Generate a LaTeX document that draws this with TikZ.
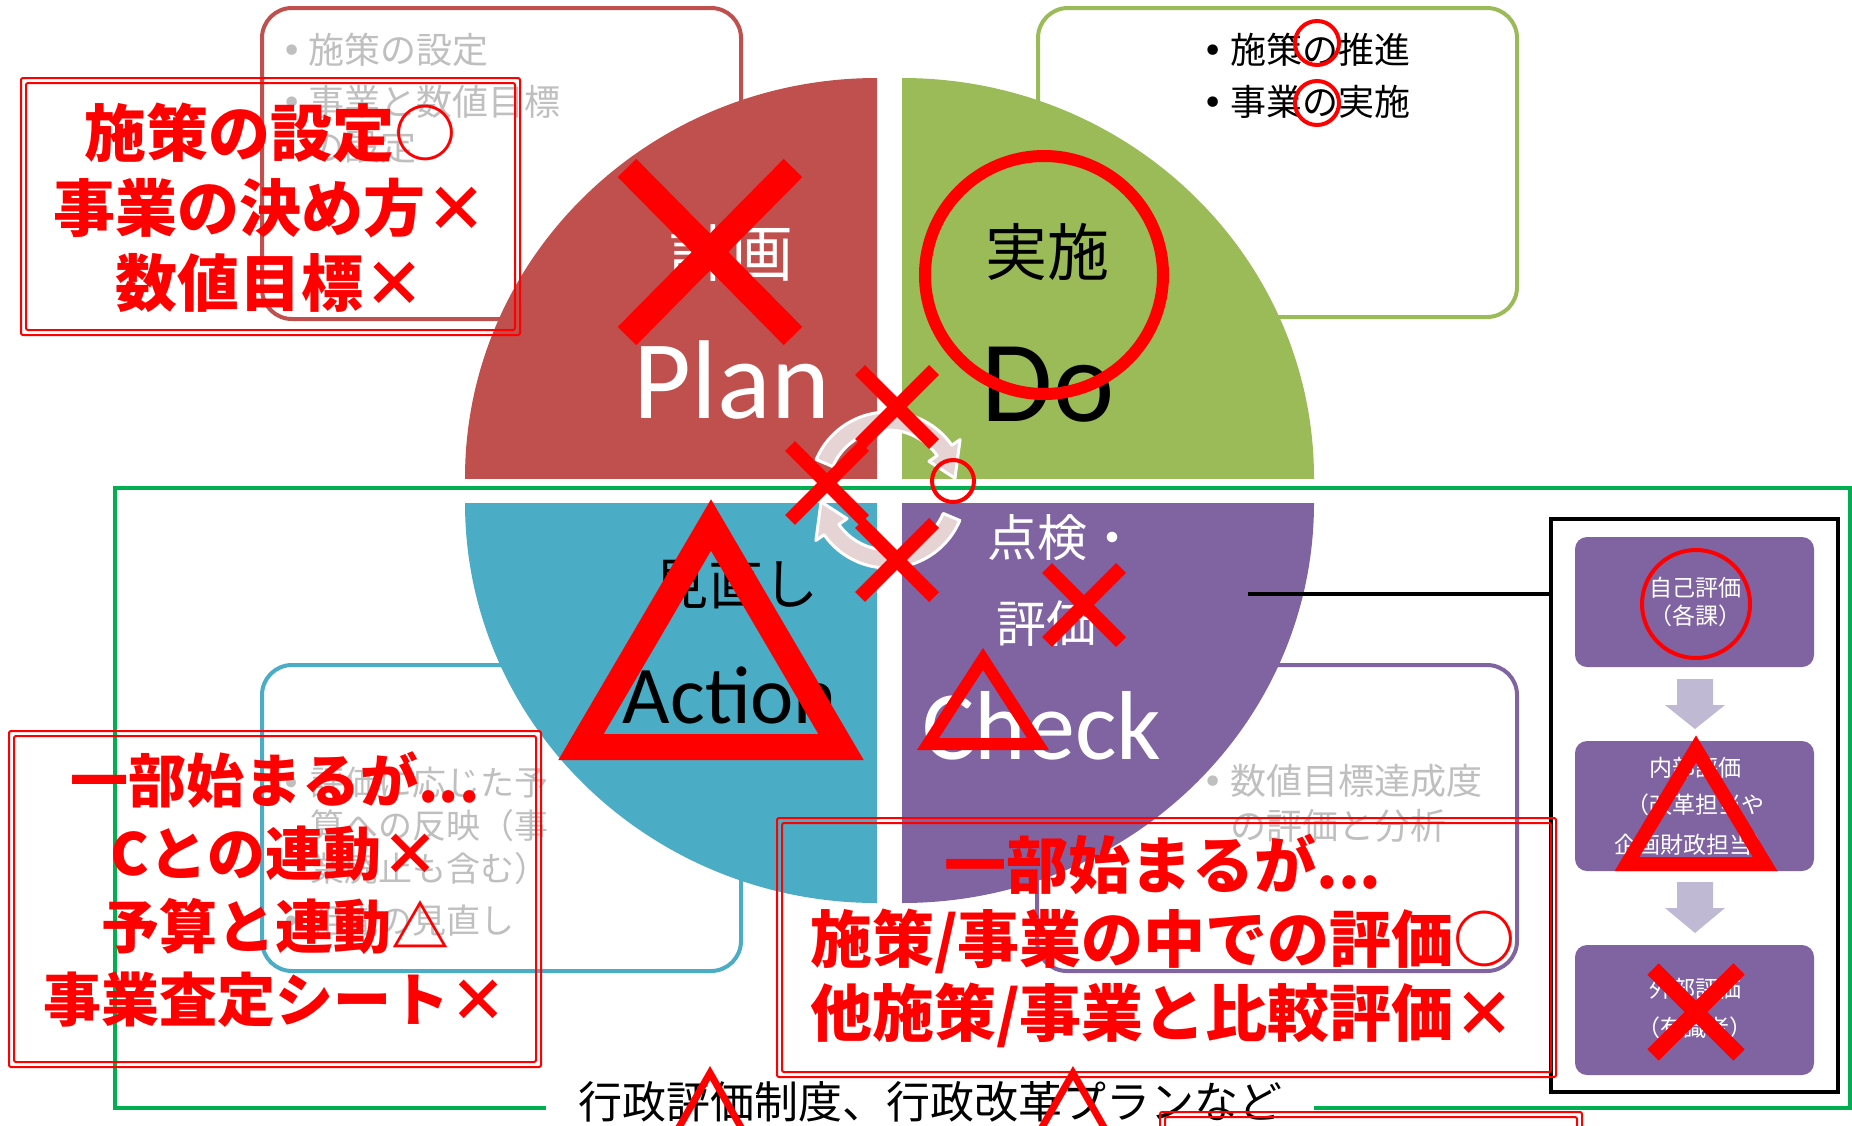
\documentclass[tikz,border=0pt]{standalone}
\usepackage{fontspec}
\setmainfont{Carlito}
\newfontfamily\jp{Noto Sans CJK JP}
\newfontfamily\dv{DejaVu Sans}
\definecolor{planc}{HTML}{C0504D}
\definecolor{doc}{HTML}{9BBB59}
\definecolor{actc}{HTML}{4BACC6}
\definecolor{chkc}{HTML}{8064A2}
\definecolor{grayt}{HTML}{BFBFBF}
\definecolor{grn}{HTML}{00B050}
\definecolor{cyc}{HTML}{E6D3D3}
\definecolor{parr}{HTML}{C0B9D4}
\begin{document}
\begin{tikzpicture}[x=1pt,y=-1pt,
  callout/.style={line width=4pt, rounded corners=30pt},
  gtxt/.style={anchor=base west, inner sep=0pt, text=grayt, font=\jp\fontsize{36}{36}\selectfont},
  gtxtA/.style={gtxt, font=\jp\fontsize{34}{34}\selectfont},
  btxt/.style={gtxt, text=black},
  redtxt/.style={anchor=base, inner sep=0pt, text=red, font=\jp\bfseries\fontsize{62}{62}\selectfont},
  redtxtB/.style={redtxt, font=\jp\bfseries\fontsize{58}{58}\selectfont},
  dblbox/.style={draw=red, line width=2pt, rounded corners=2pt},
  redx/.style={draw=red, line cap=butt},
  redtri/.style={draw=red, line join=miter},
  redring/.style={draw=red},
  pietxt/.style={anchor=base, inner sep=0pt},
  paneltxt/.style={anchor=base, inner sep=0pt, text=white, font=\jp\fontsize{23}{23}\selectfont},
  cycarrow/.style={fill=cyc, draw=white, line width=3pt, line join=round},
  downarrow/.style={fill=parr}
]
\useasboundingbox (0,0) rectangle (1852,1125);
\clip (0,0) rectangle (1852,1125);
\fill[white] (0,0) rectangle (1852,1125);

% callout boxes
\draw[callout, draw=planc] (262,8) rectangle (741,319);
\draw[callout, draw=doc] (1038,8) rectangle (1517,317);
\draw[callout, draw=actc] (262,665) rectangle (741,971);
\draw[callout, draw=chkc] (1037,665) rectangle (1517,971);

\node[gtxt] (p1) at (281,63) {\makebox[27pt][l]{\dv •}施策の設定};
\node[gtxt] (p2) at (281,115) {\makebox[27pt][l]{\dv •}事業と数値目標};
\node[gtxt] (p3) at (308,160) {の設定};
\node[btxt] (d1) at (1202,63) {\makebox[28pt][l]{\dv •}施策の推進};
\node[btxt] (d2) at (1202,115) {\makebox[28pt][l]{\dv •}事業の実施};
\node[gtxtA] (a1) at (281,795) {\makebox[29pt][l]{\dv •}評価に応じた予};
\node[gtxtA] (a2) at (310,838) {算への反映（事};
\node[gtxtA] (a3) at (310,881) {業廃止も含む）};
\node[gtxtA] (a4) at (281,933) {\makebox[29pt][l]{\dv •}組織の見直し};
\node[gtxt] (c1) at (1202,794) {\makebox[28pt][l]{\dv •}数値目標達成度};
\node[gtxt] (c2) at (1230,839) {の評価と分析};

% pie
\begin{scope}
  \clip (440,60) rectangle (877,478);
  \fill[planc] (877,478) ellipse[x radius=412, y radius=400];
\end{scope}
\begin{scope}
  \clip (902,60) rectangle (1330,478);
  \fill[doc] (902,478) ellipse[x radius=412, y radius=400];
\end{scope}
\begin{scope}
  \clip (440,503) rectangle (877,920);
  \fill[actc] (877,503) ellipse[x radius=412, y radius=400];
\end{scope}
\begin{scope}
  \clip (902,503) rectangle (1330,920);
  \fill[chkc] (902,503) ellipse[x radius=412, y radius=400];
\end{scope}

\node[pietxt, text=white, font=\jp\fontsize{62}{62}\selectfont] (keikaku) at (731,276) {計画};
\node[pietxt, text=white, font=\fontsize{112}{112}\selectfont] (plan) at (732,418) {Plan};
\node[pietxt, text=black, font=\jp\fontsize{62}{62}\selectfont] (jisshi) at (1047,275) {実施};
\node[pietxt, text=black, font=\fontsize{116}{116}\selectfont] (do) at (1048,421) {Do};
\node[pietxt, text=black, font=\jp\fontsize{55}{55}\selectfont] (minaoshi) at (736,604) {見直し};
\node[pietxt, text=black, font=\fontsize{82}{82}\selectfont] (action) at (730,723) {Action};
\node[pietxt, text=white, font=\jp\fontsize{50}{50}\selectfont] (tenken) at (1062,556) {点検・};
\node[pietxt, text=white, font=\jp\fontsize{50}{50}\selectfont] (hyoka) at (1046,642) {評価};
\node[pietxt, text=white, font=\fontsize{98}{98}\selectfont] (check) at (1042,759) {Check};

% cycle arrows
\begin{scope}[shift={(888,490)}]
  \draw[cycarrow] (203:78) arc[start angle=203, end angle=325, radius=78]
     -- (325:88) -- (350:68) -- (325:50) -- (325:60)
     arc[start angle=325, end angle=203, radius=60] -- cycle;
  \draw[cycarrow] (23:78) arc[start angle=23, end angle=145, radius=78]
     -- (145:88) -- (170:68) -- (145:50) -- (145:60)
     arc[start angle=145, end angle=23, radius=60] -- cycle;
\end{scope}

% green frame
\draw[grn, line width=4pt] (115,488) rectangle (1850,1108);
\node[anchor=base, fill=white, inner xsep=32pt, inner ysep=2pt, text=black,
      font=\jp\fontsize{44}{44}\selectfont] (seido) at (930,1118) {行政評価制度、行政改革プランなど};

% right panel
\node[draw=black, line width=4pt, minimum width=287pt, minimum height=573pt, inner sep=0pt]
   (panel) at (1694.5,805.5) {};
\coordinate (lineL) at (1248,594);
\draw[black, line width=4pt] (lineL) -- (lineL -| panel.west);
\fill[chkc, rounded corners=12pt] (1575,537) rectangle (1814,667);
\fill[chkc, rounded corners=12pt] (1575,741) rectangle (1814,871);
\fill[chkc, rounded corners=12pt] (1575,945) rectangle (1814,1075);
\fill[downarrow] (1677,679) -- (1713,679) -- (1713,705) -- (1725,705) -- (1695,729)
   -- (1665,705) -- (1677,705) -- cycle;
\fill[downarrow] (1677,882) -- (1713,882) -- (1713,908) -- (1725,908) -- (1695,933)
   -- (1665,908) -- (1677,908) -- cycle;
\node[paneltxt] (s1) at (1695,596) {自己評価};
\node[paneltxt] (s2) at (1695,624) {（各課）};
\node[paneltxt] (n1) at (1695,776) {内部評価};
\node[paneltxt] (n2) at (1695,813) {（改革担当や};
\node[paneltxt] (n3) at (1695,853) {企画財政担当）};
\node[paneltxt] (g1) at (1695,997) {外部評価};
\node[paneltxt] (g2) at (1695,1036) {（有識者）};

% red comment boxes
\draw[dblbox] (21,78) rectangle (520,335);
\draw[dblbox] (26,83) rectangle (515,330);
\node[redtxt] (ra1) at (270,156) {施策の設定○};
\node[redtxt] (ra2) at (270,231) {事業の決め方×};
\node[redtxt] (ra3) at (270,306) {数値目標×};

\draw[dblbox] (9,731) rectangle (541,1067);
\draw[dblbox] (14,736) rectangle (536,1062);
\node[redtxtB] (rb1) at (275,802) {一部始まるが...};
\node[redtxtB] (rb2) at (275,875) {Cとの連動×};
\node[redtxtB] (rb3) at (275,948) {予算と連動△};
\node[redtxtB] (rb4) at (275,1021) {事業査定シート×};

\draw[dblbox] (777,818) rectangle (1556,1077);
\draw[dblbox] (782,823) rectangle (1551,1072);
\node[redtxt] (rc1) at (1163,888) {一部始まるが...};
\node[redtxt] (rc2) at (1163,962) {施策/事業の中での評価○};
\node[redtxt] (rc3) at (1163,1036) {他施策/事業と比較評価×};

\draw[dblbox] (1160,1112) rectangle (1582,1145);
\draw[dblbox] (1165,1117) rectangle (1577,1145);

% red marks
\draw[redx, line width=26pt] (627,168) -- (793,336) (793,168) -- (627,336);
\draw[redring, line width=12pt] (1044,275) circle[radius=119];
\draw[redring, line width=4pt] (1317,43) circle[radius=22];
\draw[redring, line width=4pt] (1317,103) circle[radius=22];
\draw[redx, line width=14pt] (860,370) -- (934,444) (934,370) -- (860,444);
\draw[redx, line width=14pt] (790,446) -- (864,520) (864,446) -- (790,520);
\draw[redx, line width=14pt] (860,523) -- (934,597) (934,523) -- (860,597);
\draw[redring, line width=4pt] (953,481) circle[radius=21];
\draw[redx, line width=14pt] (1047,568) -- (1121,642) (1121,568) -- (1047,642);
\draw[redtri, line width=26pt] (711,525) -- (841,747) -- (581,747) -- cycle;
\draw[redtri, line width=12pt] (983,659) -- (1038,744) -- (928,744) -- cycle;
\draw[redtri, line width=14pt] (1696,749) -- (1765,864) -- (1627,864) -- cycle;
\draw[redx, line width=16pt] (1653,969) -- (1739,1055) (1739,969) -- (1653,1055);
\draw[redring, line width=4pt] (1696,604) circle[radius=54];
\draw[redtri, line width=7pt] (710,1073) -- (754,1150) -- (666,1150) -- cycle;
\draw[redtri, line width=7pt] (1073,1073) -- (1117,1150) -- (1029,1150) -- cycle;
\end{tikzpicture}
\end{document}
